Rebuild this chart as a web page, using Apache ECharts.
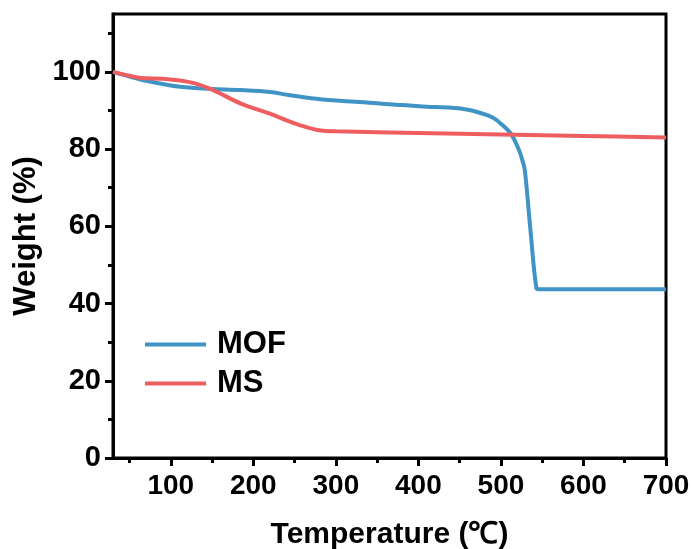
<!DOCTYPE html>
<html>
<head>
<meta charset="utf-8">
<script src="https://cdn.jsdelivr.net/npm/echarts@6/dist/echarts.min.js"></script>
<style>
  html, body { margin: 0; padding: 0; background: #fff; }
  #main { width: 691px; height: 549px; }
</style>
</head>
<body>
<div id="main"></div>
<script>
// MOF curve (temperature, weight %)
var mofTemp = [30, 50, 70, 100, 125, 150, 185, 220, 241, 270, 300, 350, 379, 410, 440, 460, 476, 490, 500, 512, 522, 526, 529, 536, 543, 547, 600, 650, 700]
var mofWeight = [100, 98.8, 97.7, 96.5, 95.9, 95.6, 95.3, 94.8, 94.1, 93.2, 92.6, 91.9, 91.4, 91.0, 90.7, 90.2, 89.3, 88.2, 86.6, 84.0, 79.7, 77.1, 74.5, 58.5, 44.0, 43.7, 43.7, 43.7, 43.7]
// MS curve
var msTemp = [30, 50, 64, 90, 124, 148, 185, 220, 241, 258, 282, 300, 400, 500, 600, 700]
var msWeight = [100, 99.0, 98.4, 98.2, 97.3, 95.6, 91.8, 89.2, 87.4, 86.1, 84.8, 84.6, 84.2, 83.8, 83.4, 83.0]

var xMajor = [100, 200, 300, 400, 500, 600, 700]
var xMinor = [50, 150, 250, 350, 450, 550, 650]
var yMajor = [0, 20, 40, 60, 80, 100]
var yMinor = [10, 30, 50, 70, 90, 110]

var font = 'Liberation Sans, Arial, sans-serif'

var myChart = echarts.init(document.getElementById('main'))
myChart.setOption({
  animation: false,
  grid: {
    left: 113, right: 25, top: 14, bottom: 91,
    outerBoundsMode: 'none',
    containLabel: false,
    show: true, borderColor: '#000', borderWidth: 3
  },
  legend: {
    orient: 'vertical',
    left: 140,
    top: 324,
    icon: 'rect',
    itemWidth: 61,
    itemHeight: 4,
    itemGap: 8,
    textStyle: { fontFamily: font, fontWeight: 'bold', fontSize: 31, color: '#000', lineHeight: 31, padding: [0, 0, 0, 6] },
    data: ['MOF', 'MS']
  },
  xAxis: [
    {
      type: 'value', min: 30, max: 700,
      name: 'Temperature (\u2103)', nameLocation: 'middle', nameGap: 62,
      nameTextStyle: { fontFamily: font, fontWeight: 'bold', fontSize: 30, color: '#000' },
      axisLine: { show: true, lineStyle: { color: '#000', width: 3 } },
      axisTick: { show: true, customValues: xMajor, length: 8, lineStyle: { color: '#000', width: 3 } },
      axisLabel: { customValues: xMajor, margin: 14, fontFamily: font, fontWeight: 'bold', fontSize: 28, color: '#000' },
      splitLine: { show: false }
    },
    {
      type: 'value', min: 30, max: 700, position: 'bottom',
      axisLine: { show: false },
      axisTick: { show: true, customValues: xMinor, length: 5, lineStyle: { color: '#000', width: 3 } },
      axisLabel: { show: false },
      splitLine: { show: false }
    }
  ],
  yAxis: [
    {
      type: 'value', min: 0, max: 115,
      name: 'Weight (%)', nameLocation: 'middle', nameGap: 68,
      nameTextStyle: { fontFamily: font, fontWeight: 'bold', fontSize: 31, color: '#000' },
      axisLine: { show: true, lineStyle: { color: '#000', width: 3 } },
      axisTick: { show: true, customValues: yMajor, length: 8, lineStyle: { color: '#000', width: 3 } },
      axisLabel: { customValues: yMajor, margin: 12, fontFamily: font, fontWeight: 'bold', fontSize: 29, color: '#000' },
      splitLine: { show: false }
    },
    {
      type: 'value', min: 0, max: 115, position: 'left',
      axisLine: { show: false },
      axisTick: { show: true, customValues: yMinor, length: 5, lineStyle: { color: '#000', width: 3 } },
      axisLabel: { show: false },
      splitLine: { show: false }
    }
  ],
  series: [
    {
      name: 'MOF', type: 'line', showSymbol: false,
      smooth: 0.35,
      itemStyle: { color: '#3F93C5' },
      lineStyle: { color: '#3F93C5', width: 4 },
      data: mofTemp.map(function (t, i) { return [t, mofWeight[i]] })
    },
    {
      name: 'MS', type: 'line', showSymbol: false,
      smooth: 0.35,
      itemStyle: { color: '#EE5E60' },
      lineStyle: { color: '#EE5E60', width: 4 },
      data: msTemp.map(function (t, i) { return [t, msWeight[i]] })
    }
  ]
})
</script>
</body>
</html>
